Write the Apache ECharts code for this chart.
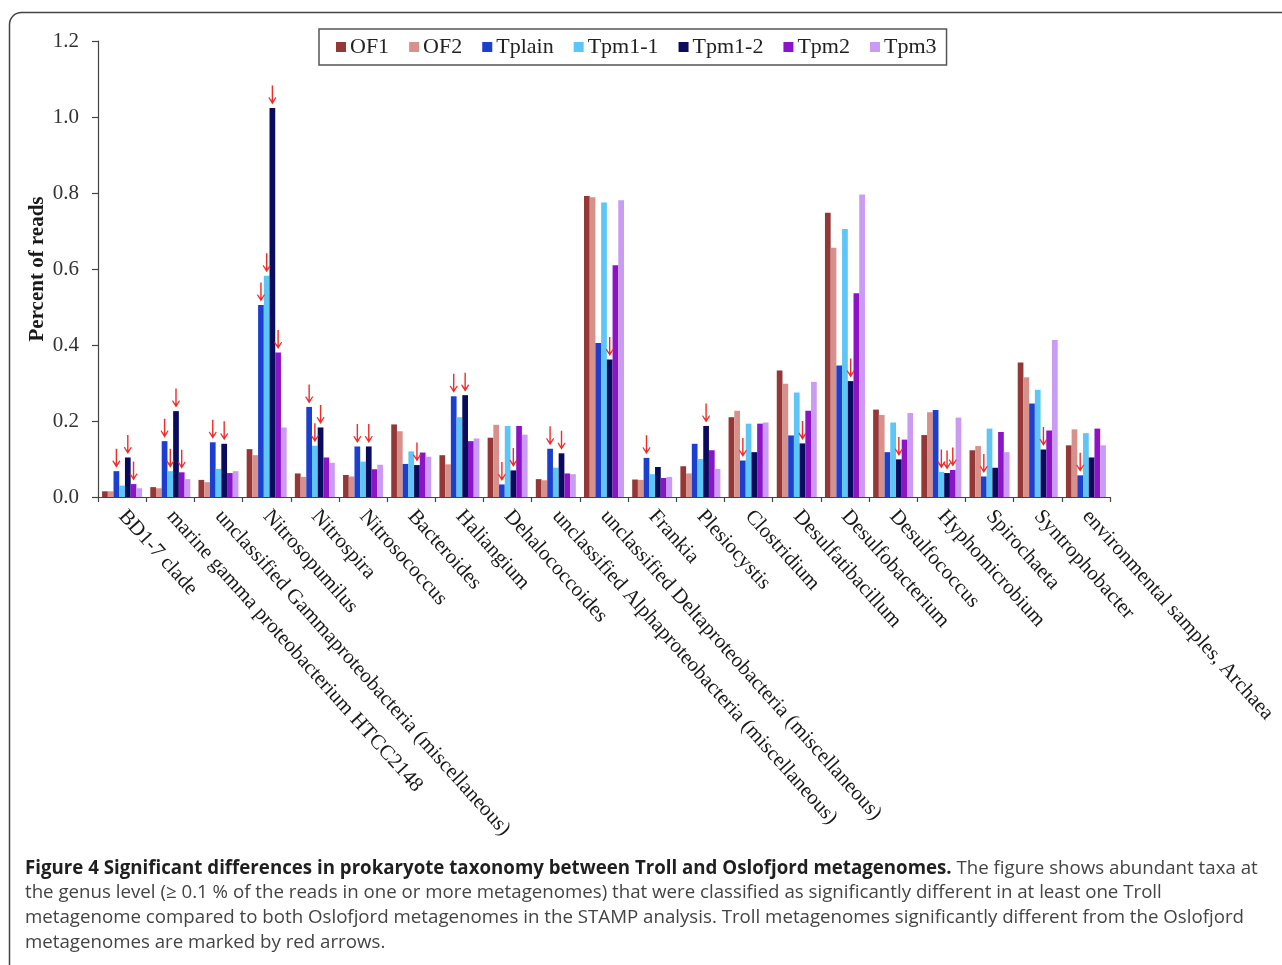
<!DOCTYPE html>
<html>
<head>
<meta charset="utf-8">
<title>Figure 4</title>
<script src="https://cdn.jsdelivr.net/npm/echarts@6/dist/echarts.min.js"></script>
<style>
  html, body { margin: 0; padding: 0; background: #fff; }
  #chart { width: 1282px; height: 965px; }
</style>
</head>
<body>
<div id="chart"></div>
<script>
// Genera shown on the x axis
const categories = [
  'BD1-7 clade',
  'marine gamma proteobacterium HTCC2148',
  'unclassified Gammaproteobacteria (miscellaneous)',
  'Nitrosopumilus',
  'Nitrospira',
  'Nitrosococcus',
  'Bacteroides',
  'Haliangium',
  'Dehalococcoides',
  'unclassified Alphaproteobacteria (miscellaneous)',
  'unclassified Deltaproteobacteria (miscellaneous)',
  'Frankia',
  'Plesiocystis',
  'Clostridium',
  'Desulfatibacillum',
  'Desulfobacterium',
  'Desulfococcus',
  'Hyphomicrobium',
  'Spirochaeta',
  'Syntrophobacter',
  'environmental samples, Archaea'
];

// Percent of reads per metagenome
const OF1    = [0.015, 0.026, 0.045, 0.126, 0.062, 0.058, 0.191, 0.110, 0.156, 0.047, 0.792, 0.046, 0.081, 0.210, 0.333, 0.748, 0.230, 0.163, 0.123, 0.354, 0.136];
const OF2    = [0.015, 0.023, 0.039, 0.110, 0.053, 0.054, 0.173, 0.086, 0.190, 0.044, 0.789, 0.045, 0.062, 0.227, 0.298, 0.656, 0.216, 0.223, 0.134, 0.315, 0.178];
const Tplain = [0.068, 0.147, 0.144, 0.505, 0.237, 0.133, 0.087, 0.265, 0.033, 0.127, 0.405, 0.103, 0.140, 0.096, 0.162, 0.346, 0.118, 0.229, 0.054, 0.246, 0.057];
const Tpm1_1 = [0.030, 0.068, 0.074, 0.582, 0.135, 0.093, 0.120, 0.210, 0.187, 0.077, 0.775, 0.060, 0.100, 0.193, 0.275, 0.705, 0.196, 0.066, 0.180, 0.282, 0.168];
const Tpm1_2 = [0.104, 0.226, 0.140, 1.024, 0.183, 0.133, 0.084, 0.268, 0.070, 0.115, 0.362, 0.079, 0.187, 0.118, 0.141, 0.305, 0.099, 0.063, 0.077, 0.125, 0.104];
const Tpm2   = [0.034, 0.065, 0.063, 0.380, 0.104, 0.073, 0.117, 0.147, 0.187, 0.062, 0.610, 0.050, 0.123, 0.193, 0.227, 0.536, 0.151, 0.071, 0.171, 0.175, 0.180];
const Tpm3   = [0.023, 0.047, 0.068, 0.183, 0.090, 0.085, 0.106, 0.154, 0.164, 0.060, 0.781, 0.053, 0.074, 0.196, 0.303, 0.796, 0.221, 0.209, 0.118, 0.413, 0.136];

// Genera (by index) where a Troll metagenome differs significantly from both Oslofjord ones
const sigTplain = [0, 1, 2, 3, 4, 5, 7, 8, 9, 11, 13, 18, 20];
const sigTpm1_1 = [1, 3, 4, 17];
const sigTpm1_2 = [0, 1, 2, 3, 4, 5, 6, 7, 8, 9, 10, 12, 14, 15, 16, 17, 19];
const sigTpm2   = [0, 1, 3, 17];

// Y axis ticks
const yTicks = [0.0, 0.2, 0.4, 0.6, 0.8, 1.0, 1.2];

const seriesDefs = [
  { name: 'OF1',    values: OF1,    color: '#933836', sig: [] },
  { name: 'OF2',    values: OF2,    color: '#d8908b', sig: [] },
  { name: 'Tplain', values: Tplain, color: '#1b3fcf', sig: sigTplain },
  { name: 'Tpm1-1', values: Tpm1_1, color: '#5cc6f7', sig: sigTpm1_1 },
  { name: 'Tpm1-2', values: Tpm1_2, color: '#0b0b5e', sig: sigTpm1_2 },
  { name: 'Tpm2',   values: Tpm2,   color: '#8c14c8', sig: sigTpm2 },
  { name: 'Tpm3',   values: Tpm3,   color: '#cb9af3', sig: [] }
];

// Thin red down arrow used to flag significant bars
const ARROW = 'path://M3.3,0 L4.7,0 L4.7,15.6 L7.2,12 L8,12.8 L4,19.5 L0,12.8 L0.8,12 L3.3,15.6 Z';

const serif = '"Liberation Serif", "Times New Roman", serif';
const sans = '"Open Sans", "Noto Sans", sans-serif';

const chart = echarts.init(document.getElementById('chart'), null, { renderer: 'canvas' });

const series = seriesDefs.map(d => ({
  name: d.name,
  type: 'bar',
  data: d.values,
  barGap: '0%',
  barCategoryGap: '17%',
  itemStyle: { color: d.color },
  animation: false,
  markPoint: {
    z: 10,
    symbol: ARROW,
    symbolSize: [8, 19],
    symbolOffset: [0, -13],
    itemStyle: { color: '#f22a2a' },
    label: { show: false },
    animation: false,
    silent: true,
    data: d.sig.map(i => ({ coord: [i, d.values[i]] }))
  }
}));

const option = {
  backgroundColor: '#ffffff',
  animation: false,
  grid: { left: 98, right: 172, top: 41, bottom: 468, containLabel: false },
  legend: {
    left: 319,
    top: 29,
    itemWidth: 10,
    itemHeight: 10,
    itemGap: 20,
    icon: 'rect',
    borderColor: '#555',
    borderWidth: 1.5,
    padding: [7, 10, 7, 17],
    textStyle: { fontFamily: serif, fontSize: 22, color: '#222', padding: [0, 0, 0, -1] },
    data: seriesDefs.map(d => d.name)
  },
  xAxis: {
    type: 'category',
    data: categories,
    axisLine: { lineStyle: { color: '#444', width: 1.2 } },
    axisTick: { show: true, length: 5, lineStyle: { color: '#444', width: 1.2 } },
    axisLabel: {
      interval: 0,
      rotate: -48,
      margin: 16,
      fontFamily: serif,
      fontSize: 21,
      color: '#1a1a1a'
    }
  },
  yAxis: {
    type: 'value',
    min: yTicks[0],
    max: yTicks[yTicks.length - 1],
    interval: 0.2,
    name: 'Percent of reads',
    nameLocation: 'middle',
    nameGap: 50,
    nameMoveOverlap: false,
    nameTextStyle: { fontFamily: serif, fontSize: 21, fontWeight: 'bold', color: '#1a1a1a' },
    axisLine: { show: true, lineStyle: { color: '#444', width: 1.2 } },
    axisTick: { show: true, length: 6, lineStyle: { color: '#444', width: 1.2 } },
    splitLine: { show: false },
    axisLabel: {
      margin: 19,
      fontFamily: serif,
      fontSize: 21,
      color: '#333',
      formatter: v => v.toFixed(1)
    }
  },
  series: series,
  graphic: [
    {
      type: 'rect',
      silent: true,
      shape: { x: 9.5, y: 12.5, width: 1320, height: 1020, r: 12 },
      style: { fill: 'none', stroke: '#444', lineWidth: 1.5 }
    },
    {
      type: 'text',
      left: 25,
      top: 859,
      silent: true,
      style: {
        text: '{b|Figure 4 Significant differences in prokaryote taxonomy between Troll and Oslofjord metagenomes.}{r| The figure shows abundant taxa at}\n' +
              '{r|the genus level (≥ 0.1 % of the reads in one or more metagenomes) that were classified as significantly different in at least one Troll}\n' +
              '{r|metagenome compared to both Oslofjord metagenomes in the STAMP analysis. Troll metagenomes significantly different from the Oslofjord}\n' +
              '{r|metagenomes are marked by red arrows.}',
        rich: {
          b: { fontFamily: sans, fontSize: 18.7, fontWeight: 'bold', fill: '#1f1f1f', lineHeight: 24.6 },
          r: { fontFamily: sans, fontSize: 18.7, fill: '#444', lineHeight: 24.6 }
        }
      }
    }
  ]
};

chart.setOption(option);
</script>
</body>
</html>
